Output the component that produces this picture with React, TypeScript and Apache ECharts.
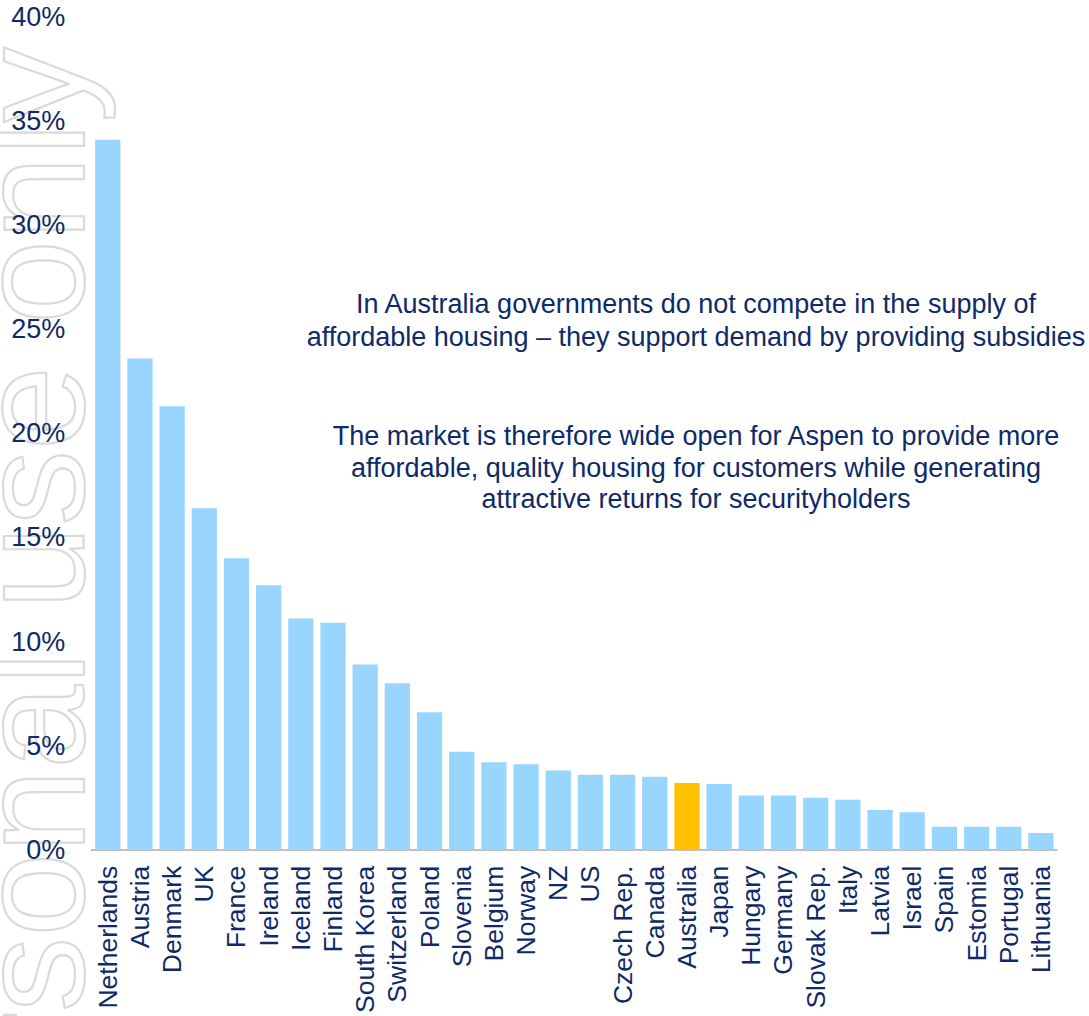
import React, { useEffect, useRef } from "react";
import * as echarts from "echarts";

// Social housing stock as a share of total dwellings, by country
const countries = [
  "Netherlands", "Austria", "Denmark", "UK", "France", "Ireland", "Iceland", "Finland",
  "South Korea", "Switzerland", "Poland", "Slovenia", "Belgium", "Norway", "NZ", "US",
  "Czech Rep.", "Canada", "Australia", "Japan", "Hungary", "Germany", "Slovak Rep.",
  "Italy", "Latvia", "Israel", "Spain", "Estomia", "Portugal", "Lithuania",
];

const shares = [
  34.1, 23.6, 21.3, 16.4, 14.0, 12.7, 11.1, 10.9,
  8.9, 8.0, 6.6, 4.7, 4.2, 4.1, 3.8, 3.6,
  3.6, 3.5, 3.2, 3.15, 2.6, 2.6, 2.5,
  2.4, 1.9, 1.8, 1.1, 1.1, 1.1, 0.8,
];

const highlighted = "Australia";

const yMin = 0;
const yMax = 40;
const yStep = 5;

const noteTop = [
  "In Australia governments do not compete in the supply of",
  "affordable housing \u2013 they support demand by providing subsidies",
];
const noteBottom = [
  "The market is therefore wide open for Aspen to provide more",
  "affordable, quality housing for customers while generating",
  "attractive returns for securityholders",
];

const watermark = "For personal use only";

const NAVY = "#0e2a68";
const BAR = "#99d6ff";
const HIGHLIGHT = "#ffc000";
const FONT = "'Liberation Sans', Arial, Helvetica, sans-serif";

export default function App() {
  const ref = useRef<HTMLDivElement>(null);

  useEffect(() => {
    if (!ref.current) return;
    const chart = echarts.init(ref.current, null, { renderer: "svg" });

    chart.setOption({
      animation: false,
      backgroundColor: "#ffffff",
      grid: { left: 91.7, right: 32, top: 17, bottom: 164.5, containLabel: false },
      xAxis: {
        type: "category",
        data: countries,
        axisLine: { show: true, lineStyle: { color: "#bfbfbf", width: 2 } },
        axisTick: { show: false },
        axisLabel: {
          interval: 0,
          rotate: 90,
          margin: 16,
          color: NAVY,
          fontFamily: FONT,
          fontSize: 26.5,
        },
      },
      yAxis: {
        type: "value",
        min: yMin,
        max: yMax,
        interval: yStep,
        axisLine: { show: false },
        axisTick: { show: false },
        splitLine: { show: false },
        axisLabel: {
          formatter: "{value}%",
          margin: 26.5,
          padding: [5, 0, 0, 0],
          color: NAVY,
          fontFamily: FONT,
          fontSize: 27,
        },
      },
      series: [
        {
          type: "bar",
          barCategoryGap: "21.5%",
          z: 3,
          data: countries.map((c, i) => ({
            value: shares[i],
            itemStyle: { color: c === highlighted ? HIGHLIGHT : BAR },
          })),
        },
      ],
      graphic: [
        {
          // faint outlined watermark running up the left edge
          type: "text",
          z: -10,
          silent: true,
          x: 31,
          y: 47,
          rotation: Math.PI / 2,
          style: {
            text: watermark,
            font: `151px ${FONT}`,
            align: "right",
            verticalAlign: "middle",
            fill: "rgba(0,0,0,0)",
            stroke: "#dadada",
            lineWidth: 2.2,
          },
        },
        {
          type: "text",
          x: 696,
          y: 320.5,
          style: {
            text: noteTop.join("\n"),
            font: `27px ${FONT}`,
            lineHeight: 33,
            align: "center",
            verticalAlign: "middle",
            fill: NAVY,
          },
        },
        {
          type: "text",
          x: 696,
          y: 467.5,
          style: {
            text: noteBottom.join("\n"),
            font: `27px ${FONT}`,
            lineHeight: 31.5,
            align: "center",
            verticalAlign: "middle",
            fill: NAVY,
          },
        },
      ],
    });

    return () => chart.dispose();
  }, []);

  return (
    <div
      ref={ref}
      style={{ position: "fixed", left: 0, top: 0, width: 1089, height: 1016 }}
    />
  );
}
